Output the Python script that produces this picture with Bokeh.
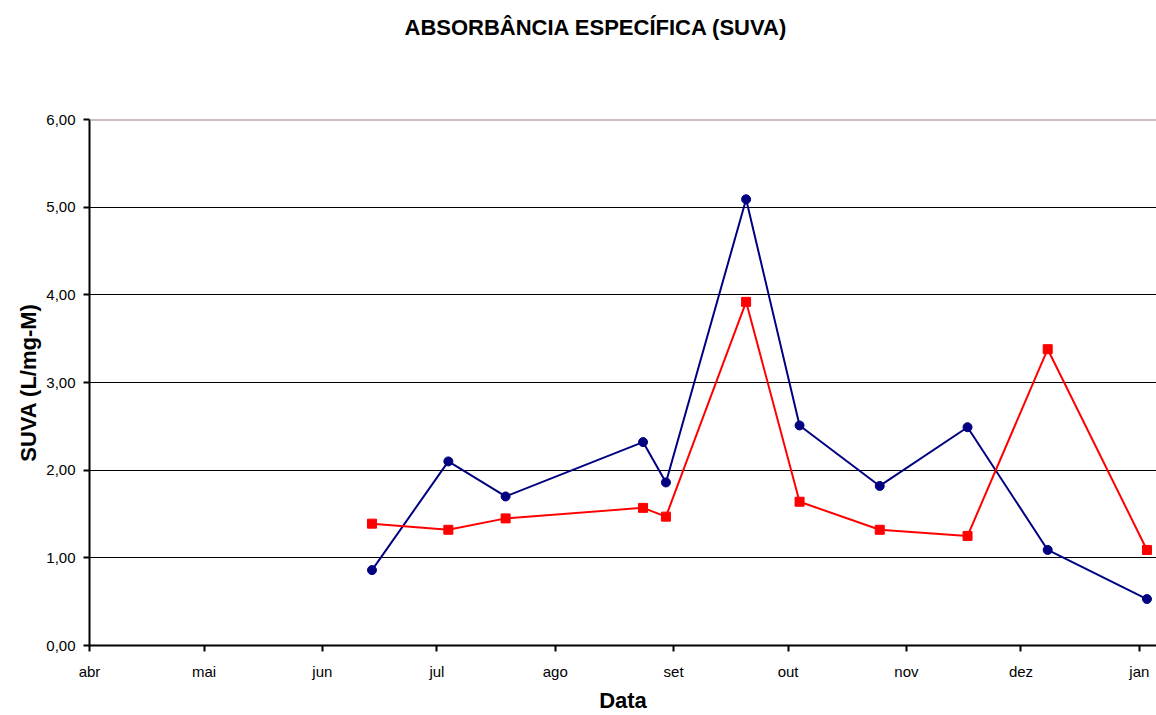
from datetime import datetime, timedelta
from bokeh.plotting import figure
from bokeh.models import FixedTicker, CustomJSTickFormatter, Span, Title
from bokeh.embed import file_html
from bokeh.resources import INLINE

# ---- data ----
dates = [datetime(2007, 6, 14), datetime(2007, 7, 4), datetime(2007, 7, 19),
         datetime(2007, 8, 24), datetime(2007, 8, 30), datetime(2007, 9, 20),
         datetime(2007, 10, 4), datetime(2007, 10, 25), datetime(2007, 11, 17),
         datetime(2007, 12, 8), datetime(2008, 1, 3)]
suva_blue = [0.86, 2.10, 1.70, 2.32, 1.86, 5.09, 2.51, 1.82, 2.49, 1.09, 0.53]
suva_red = [1.39, 1.32, 1.45, 1.57, 1.47, 3.92, 1.64, 1.32, 1.25, 3.38, 1.09]
month_starts = [datetime(2007, m, 1) for m in range(4, 13)] + [datetime(2008, 1, 1)]
month_labels = ["abr", "mai", "jun", "jul", "ago", "set", "out", "nov", "dez", "jan"]
y_ticks = [0, 1, 2, 3, 4, 5, 6]

TITLE = "ABSORBÂNCIA ESPECÍFICA (SUVA)"
X_LABEL = "Data"
Y_LABEL = "SUVA (L/mg-M)"

FONT = "Liberation Sans"

x_start = datetime(2007, 4, 1)
x_end = x_start + timedelta(days=279.5)

p = figure(width=1156, height=715, x_axis_type="datetime",
           x_range=(x_start, x_end), y_range=(0, 6),
           output_backend="svg", toolbar_location=None,
           min_border_left=89, min_border_right=0,
           min_border_top=119, min_border_bottom=70)

p.outline_line_color = None
p.background_fill_color = "white"
p.border_fill_color = "white"

def ms(d):
    return (d - datetime(1970, 1, 1)).total_seconds() * 1000.0

# x axis
xa = p.xaxis[0]
xa.ticker = FixedTicker(ticks=[ms(d) for d in month_starts])
xa.major_label_overrides = {ms(d): lab for d, lab in zip(month_starts, month_labels)}
xa.axis_label = X_LABEL
xa.axis_label_text_font = FONT
xa.axis_label_text_font_size = "22px"
xa.axis_label_text_font_style = "bold"
xa.axis_label_text_color = "black"
xa.axis_label_standoff = 5
xa.major_label_text_font = FONT
xa.major_label_text_font_size = "15px"
xa.major_label_text_color = "black"
xa.major_label_standoff = 11
xa.axis_line_color = "black"
xa.axis_line_width = 2
xa.major_tick_out = 6
xa.major_tick_in = 0
xa.major_tick_line_color = "black"
xa.major_tick_line_width = 2
xa.minor_tick_line_color = None

# y axis
ya = p.yaxis[0]
ya.ticker = FixedTicker(ticks=y_ticks)
ya.formatter = CustomJSTickFormatter(code="return tick.toFixed(2).replace('.', ',');")
ya.axis_label = Y_LABEL
ya.axis_label_text_font = FONT
ya.axis_label_text_font_size = "22px"
ya.axis_label_text_font_style = "bold"
ya.axis_label_text_color = "black"
ya.axis_label_standoff = 2
ya.major_label_text_font = FONT
ya.major_label_text_font_size = "15px"
ya.major_label_text_color = "black"
ya.major_label_standoff = 8
ya.axis_line_color = "black"
ya.axis_line_width = 2
ya.major_tick_out = 6
ya.major_tick_in = 0
ya.major_tick_line_color = "black"
ya.major_tick_line_width = 2
ya.minor_tick_line_color = None

# grids
p.xgrid.grid_line_color = None
p.ygrid.ticker = FixedTicker(ticks=[1, 2, 3, 4, 5])
p.ygrid.grid_line_color = "black"
p.ygrid.grid_line_width = 1.2

p.add_layout(Span(location=6, dimension="width", line_color="#9a8080", line_width=2))

# series
p.line(dates, suva_blue, line_color="#000080", line_width=2)
p.scatter(dates, suva_blue, marker="circle", size=9, fill_color="#000080", line_color="#000080")
p.line(dates, suva_red, line_color="#ff0000", line_width=2)
p.scatter(dates, suva_red, marker="square", size=9, fill_color="#ff0000", line_color="#ff0000")

# title: a blank spacer title next to the frame, the real title stacked above it
p.add_layout(Title(text=" ", text_font_size="10px", standoff=67), "above")
p.add_layout(Title(text=TITLE, align="left", offset=315, standoff=0,
                   text_font=FONT, text_font_size="22px", text_font_style="bold",
                   text_color="black"), "above")

open("out.html", "w").write(file_html(p, INLINE))
